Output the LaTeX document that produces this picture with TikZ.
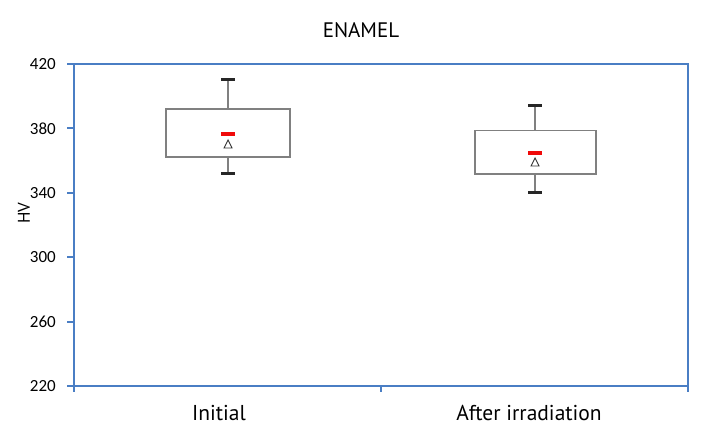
\documentclass[tikz,border=0pt]{standalone}
\usepackage{fontspec}
\setmainfont{PT Sans}
\newfontfamily\tickfont{Carlito}
\definecolor{axisblue}{RGB}{74,126,196}
\definecolor{boxgray}{RGB}{128,128,128}
\definecolor{meanred}{RGB}{240,10,10}
\begin{document}
\begin{tikzpicture}[x=1pt,y=-1pt,
  axisline/.style={draw=axisblue,line width=2pt},
  boxline/.style={draw=boxgray,line width=1.5pt},
  capline/.style={draw=black!85,line width=3pt},
  medline/.style={draw=meanred,line width=3.5pt},
  ticklab/.style={font=\tickfont\fontsize{17}{19}\selectfont,anchor=east,inner sep=0pt},
  catlab/.style={font=\fontsize{21.5}{24}\selectfont,inner sep=0pt},
  meanmark/.style={draw=black!80,fill=white,line width=0.9pt}]
\useasboundingbox (0,0) rectangle (708,444);
\fill[white] (0,0) rectangle (708,444);
% title
\node[font=\fontsize{21}{24}\selectfont,inner sep=0pt] (title) at (361,30) {ENAMEL};
% axes frame
\draw[axisline] (74,64) -- (688,64) -- (688,386) -- (74,386) -- cycle;
% y ticks and labels
\foreach \v/\yy in {420/64,380/128.4,340/192.8,300/257.2,260/321.6,220/386}{
  \draw[axisline] (67,\yy) -- (74,\yy);
  \node[ticklab] (t\v) at (56,\yy) {\v};
}
% x ticks
\foreach \xx in {74,381,688}{\draw[axisline] (\xx,386) -- (\xx,392);}
% axis title
\node[font=\fontsize{17}{19}\selectfont,rotate=90,inner sep=0pt] (hv) at (24,213) {HV};
% categories
\node[catlab] (c1) at (219,413) {Initial};
\node[catlab] (c2) at (529,413) {After irradiation};
% box 1
\draw[boxline] (228,79) -- (228,109);
\draw[boxline] (228,157) -- (228,173);
\draw[boxline] (166,109) rectangle (290,157);
\draw[capline] (221,79) -- (235,79);
\draw[capline] (221,173) -- (235,173);
\draw[medline] (221,134) -- (235,134);
\draw[meanmark] (228,140) -- (232,148) -- (224,148) -- cycle;
% box 2
\draw[boxline] (535,105) -- (535,130.5);
\draw[boxline] (535,174) -- (535,192);
\draw[boxline] (475,130.5) rectangle (596,174);
\draw[capline] (528,105) -- (542,105);
\draw[capline] (528,192) -- (542,192);
\draw[medline] (528,153) -- (542,153);
\draw[meanmark] (535,158) -- (539,166) -- (531,166) -- cycle;
\end{tikzpicture}
\end{document}
